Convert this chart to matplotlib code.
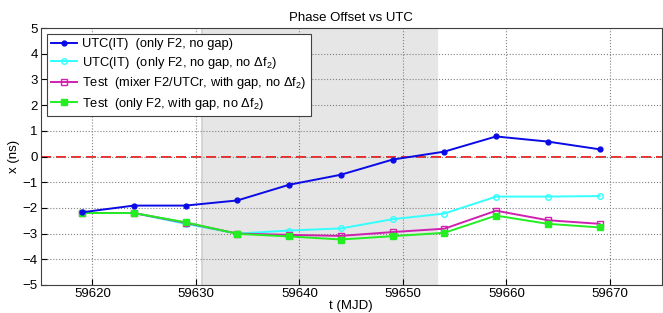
import numpy as np
import matplotlib.pyplot as plt

plt.rcParams['font.family'] = ['Liberation Sans', 'DejaVu Sans']
plt.rcParams['mathtext.fontset'] = 'custom'
plt.rcParams['mathtext.rm'] = 'Liberation Sans'
plt.rcParams['mathtext.it'] = 'Liberation Sans'

# data
mjd = [59619, 59624, 59629, 59634, 59639, 59644, 59649, 59654, 59659, 59664, 59669]
utc_it = [-2.17, -1.91, -1.91, -1.71, -1.10, -0.71, -0.12, 0.19, 0.78, 0.58, 0.28]
utc_it_nodf = [-2.20, -2.20, -2.62, -3.00, -2.88, -2.80, -2.44, -2.22, -1.56, -1.56, -1.54]
test_mixer = [-2.20, -2.20, -2.58, -3.00, -3.05, -3.09, -2.94, -2.81, -2.11, -2.48, -2.62]
test_only = [-2.20, -2.20, -2.56, -3.01, -3.11, -3.23, -3.10, -2.97, -2.30, -2.62, -2.76]
gap_start, gap_end = 59630.55, 59653.3

fig = plt.figure(figsize=(6.63, 3.13), dpi=100)
ax = fig.add_axes([0.0614, 0.0895, 0.9366, 0.821])

ax.axvspan(gap_start, gap_end, color='#e6e6e6', zorder=0)
ax.axvline(gap_start, color='#d0d0d0', lw=1.2, zorder=0)
ax.axhline(0, color='red', ls=(0, (6, 3)), lw=1.2, zorder=1)

ax.plot(mjd, utc_it, '-o', color='#0a0ae6', lw=1.4, ms=3.5, label=r'UTC(IT)  (only F2, no gap)', zorder=5)
ax.plot(mjd, utc_it_nodf, '-o', color='#33ffff', lw=1.4, ms=4, mfc='none', mew=1.0,
        label=r'UTC(IT)  (only F2, no gap, no $\Delta$f$_2$)', zorder=3)
ax.plot(mjd, test_mixer, '-s', color='#d020b0', lw=1.4, ms=4, mfc='none', mew=1.0,
        label=r'Test  (mixer F2/UTCr, with gap, no $\Delta$f$_2$)', zorder=3)
ax.plot(mjd, test_only, '-s', color='#22ee22', lw=1.4, ms=4,
        label=r'Test  (only F2, with gap, no $\Delta$f$_2$)', zorder=4)

ax.set_xlim(59615, 59675)
ax.set_ylim(-5, 5)
ax.set_xticks(np.arange(59620, 59671, 10))
ax.set_yticks(np.arange(-5, 6, 1))
ax.grid(True, ls=':', color='#808080', lw=0.8)
ax.tick_params(direction='in', labelsize=9.5, length=4, pad=2)
ax.ticklabel_format(useOffset=False, style='plain', axis='x')
for s in ax.spines.values():
    s.set_color('#404040')

ax.set_title('Phase Offset vs UTC', fontsize=9.5, pad=5)
ax.set_xlabel('t (MJD)', fontsize=9.5, labelpad=0)
ax.set_ylabel('x (ns)', fontsize=9.5, labelpad=2)

leg = ax.legend(loc='upper left', fontsize=9.3, fancybox=False, framealpha=1,
                edgecolor='#404040', handlelength=2.0, handletextpad=0.4,
                borderpad=0.35, labelspacing=0.35, borderaxespad=0.45)
leg.get_frame().set_linewidth(0.8)

fig.savefig('out.png', dpi=100)
